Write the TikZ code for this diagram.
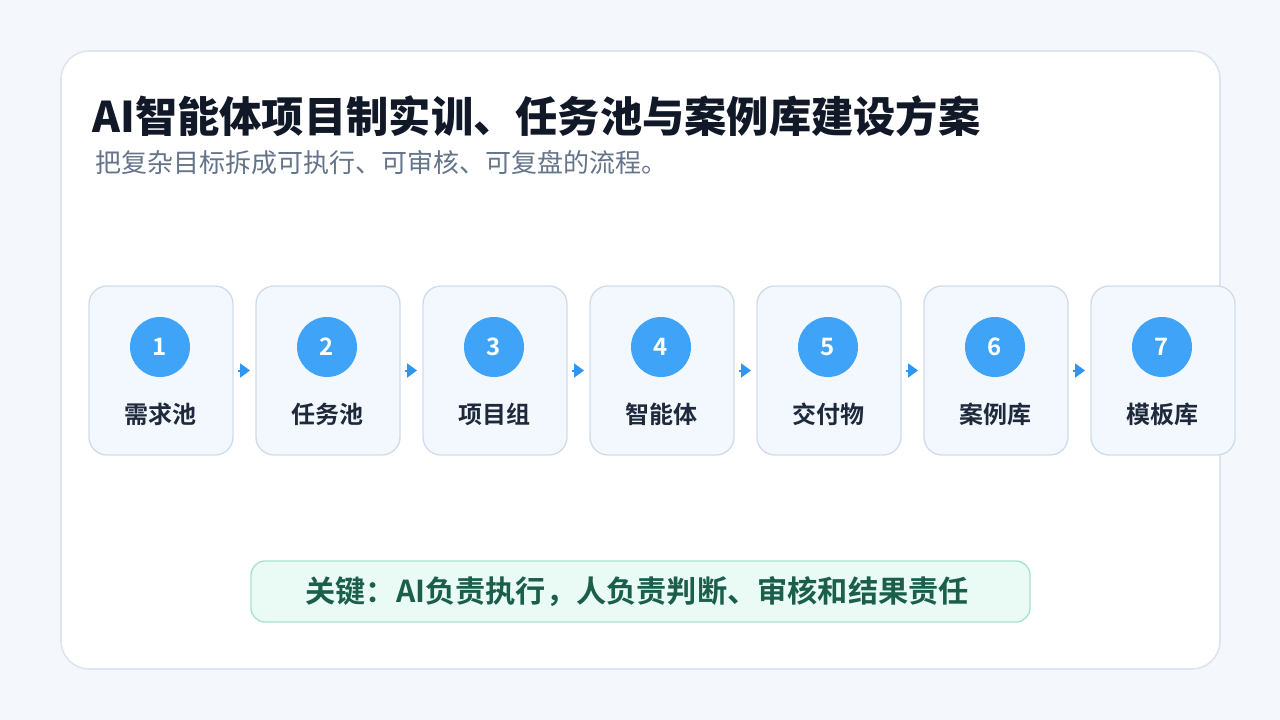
\documentclass[tikz,border=0pt]{standalone}
\usepackage{fontspec}
\setmainfont{Noto Sans CJK SC}[BoldFont={Noto Sans CJK SC Bold}]
\newfontfamily\heavyfont{Noto Sans CJK SC Black}
\usetikzlibrary{arrows.meta}

\definecolor{pagebg}{RGB}{244,248,252}
\definecolor{cardline}{RGB}{221,230,240}
\definecolor{stepfill}{RGB}{243,248,254}
\definecolor{stepline}{RGB}{208,220,234}
\definecolor{dotblue}{RGB}{63,163,247}
\definecolor{arrowblue}{RGB}{47,149,240}
\definecolor{labelnavy}{RGB}{30,41,59}
\definecolor{titleink}{RGB}{17,24,39}
\definecolor{subink}{RGB}{100,116,139}
\definecolor{keyfill}{RGB}{234,251,245}
\definecolor{keyline}{RGB}{168,226,207}
\definecolor{keyink}{RGB}{26,94,75}

\tikzset{every picture/.style={line width=0.75pt}}
\tikzset{
  stepbox/.style={draw=stepline, fill=stepfill, rounded corners=13.5pt,
    minimum width=108pt, minimum height=126.75pt, inner sep=0pt, line width=1pt},
  stepdot/.style={circle, fill=dotblue, minimum size=45pt, inner sep=0pt,
    text=white, font=\bfseries\fontsize{18}{18}\selectfont},
  steplabel/.style={text=labelnavy, inner sep=0pt, font=\bfseries\fontsize{18}{18}\selectfont},
  flow/.style={draw=arrowblue, line width=1.5pt, -{Triangle[length=7.5pt,width=10.5pt]}},
}

\begin{document}
\begin{tikzpicture}[x=0.75pt,y=0.75pt,yscale=-1,xscale=1]
%Background
\path [fill=pagebg] (0,0) rectangle (1280,720) ;
%Shape: Card
\draw [draw=cardline, fill=white, line width=1.2pt, rounded corners=21pt] (61,51) rectangle (1220,669) ;

% Text Node
\node (title) [anchor=west, inner sep=0pt, text=titleink, font=\heavyfont\fontsize{31.7}{31.7}\selectfont] at (92,116) {AI智能体项目制实训、任务池与案例库建设方案};
% Text Node
\node (subtitle) [anchor=west, inner sep=0pt, text=subink, font=\fontsize{19.5}{19.5}\selectfont] at (95,163) {把复杂目标拆成可执行、可审核、可复盘的流程。};

%Shape: Steps
\node (need) [stepbox] at (161,370.5) {};
\node (task) [stepbox] at (328,370.5) {};
\node (team) [stepbox] at (495,370.5) {};
\node (agent) [stepbox] at (662,370.5) {};
\node (output) [stepbox] at (829,370.5) {};
\node (cases) [stepbox] at (996,370.5) {};
\node (tmpl) [stepbox] at (1163,370.5) {};

%Shape: Numbers
\node (dneed) [stepdot] at (160,347) {1};
\node (dtask) [stepdot] at (327,347) {2};
\node (dteam) [stepdot] at (494,347) {3};
\node (dagent) [stepdot] at (661,347) {4};
\node (doutput) [stepdot] at (828,347) {5};
\node (dcases) [stepdot] at (995,347) {6};
\node (dtmpl) [stepdot] at (1162,347) {7};

% Text Node
\node (lneed) [steplabel] at (160,414) {需求池};
\node (ltask) [steplabel] at (327,414) {任务池};
\node (lteam) [steplabel] at (494,414) {项目组};
\node (lagent) [steplabel] at (661,414) {智能体};
\node (loutput) [steplabel] at (828,414) {交付物};
\node (lcases) [steplabel] at (995,414) {案例库};
\node (ltmpl) [steplabel] at (1162,414) {模板库};

%Straight Lines
\draw [flow] ([xshift=3pt]need.east) -- ([xshift=-4pt]task.west) ;
\draw [flow] ([xshift=3pt]task.east) -- ([xshift=-4pt]team.west) ;
\draw [flow] ([xshift=3pt]team.east) -- ([xshift=-4pt]agent.west) ;
\draw [flow] ([xshift=3pt]agent.east) -- ([xshift=-4pt]output.west) ;
\draw [flow] ([xshift=3pt]output.east) -- ([xshift=-4pt]cases.west) ;
\draw [flow] ([xshift=3pt]cases.east) -- ([xshift=-4pt]tmpl.west) ;

%Shape: Key note
\node (key) [draw=keyline, fill=keyfill, rounded corners=10.5pt, line width=1pt,
  minimum width=584.25pt, minimum height=45.75pt, inner sep=0pt, text=keyink,
  font=\bfseries\fontsize{22.65}{22.65}\selectfont] at (640.5,591.5) {关键：AI负责执行，人负责判断、审核和结果责任\hspace*{5pt}};

\end{tikzpicture}
\end{document}
